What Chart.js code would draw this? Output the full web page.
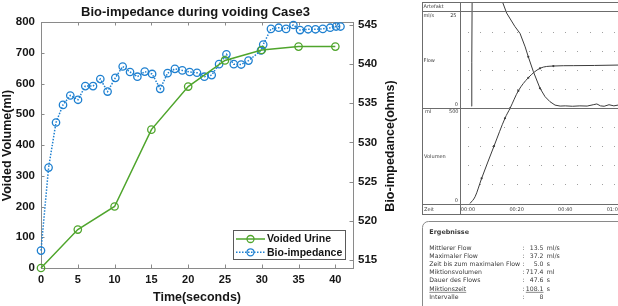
<!DOCTYPE html>
<html><head><meta charset="utf-8">
<script src="https://cdn.jsdelivr.net/npm/chart.js@4/dist/chart.umd.min.js"></script>
<style>
html,body{margin:0;padding:0;background:#fff;}
#wrap{position:relative;width:618px;height:306px;overflow:hidden;background:#fff;}
canvas{position:absolute;top:0;}
</style></head><body>
<div id="wrap">
<canvas id="c1" width="400" height="306" style="left:0;width:400px;height:306px"></canvas>
<canvas id="c2" width="218" height="306" style="left:400px;width:218px;height:306px"></canvas>
</div>
<script>
// ---------- main chart data ----------
const chartTitle = 'Bio-impedance during voiding Case3';
const xTitle = 'Time(seconds)';
const yTitle = 'Voided Volume(ml)';
const y2Title = 'Bio-impedance(ohms)';
const seriesNames = ['Voided Urine', 'Bio-impedance'];

const urineTime = [0, 5, 10, 15, 20, 25, 30, 35, 40];
const urineVolume = [0, 125, 200, 450, 590, 675, 709, 720, 720];

const impTime = [0,1.03,2.04,2.99,3.98,5.03,6.02,7.07,8.06,9.05,10.1,11.1,12.1,13.1,14.1,15.1,16.2,17.2,18.2,19.2,20.2,21.2,22.2,23.2,24.2,25.2,26.2,27.2,28.2,29.9,30.2,31.25,32.3,33.3,34.3,35.2,36.3,37.3,38.3,39.3,40.1,40.7];
const impValue = [516.2,526.8,532.55,534.8,536.0,535.45,537.2,537.2,538.1,536.5,538.25,539.7,539.0,538.4,539.05,538.75,536.85,538.85,539.4,539.2,539.0,538.9,538.4,538.6,540.0,541.25,540.0,539.95,540.45,541.75,542.5,544.5,544.65,544.5,545.0,544.35,544.45,544.45,544.5,544.65,544.8,544.8];

// ---------- scanned uroflow panel data ----------
const volTime = [0.8, 2.9, 5.6, 10.7, 15.2, 17.3, 20.7, 24.8, 29.6, 35.1, 43.3, 52.0, 61.7];
const volMl   = [0, 35, 131, 299, 444, 496, 587, 655, 704, 716, 718, 719, 721];
const flowTime = [1.45, 1.55, 1.7, 5.0, 10.0, 13.9, 15.9, 19.3, 21.4, 23.5, 24.8, 26.9, 29.6, 31.7, 33.7, 35.8, 37.9, 40.0, 43.0, 46.0, 49.0, 51.5, 53.0, 54.5, 56.0, 58.0, 60.0, 61.7];
const flowRate = [0.5, 12, 30, 37.2, 34, 28.2, 24.8, 21.3, 19.5, 16.0, 13.4, 9.5, 5.2, 3.0, 1.7, 0.8, 0.55, 0.6, 0.5, 0.6, 0.55, 0.9, 1.1, 0.6, 0.5, 0.9, 0.6, 0.8];
const flowTimeTicks = [0, 20, 40, 60];
const flowTimeLabels = ['00:00', '00:20', '00:40', '01:00'];
const flowGridRows = [5, 10, 15, 20];
const volGridRows = [100, 200, 300, 400];
const gridCols = [0,5,10,15,20,25,30,35,40,45,50,55,60];
const resultsTitle = 'Ergebnisse';
const resultLabels = ['Mittlerer Flow','Maximaler Flow','Zeit bis zum maximalen Flow','Miktionsvolumen','Dauer des Flows','Miktionszeit','Intervalle'];
const resultValues = ['13.5','37.2','5.0','717.4','47.6','108.1','8'];
const resultUnits  = ['ml/s','ml/s','s','ml','s','s',''];

const GREEN = '#4fa52c', BLUE = '#1f80d0', AXIS = '#8a8a8a', TXT = '#151515';
const FONT = '"Liberation Sans", Arial, Helvetica, sans-serif';

const leftDecor = {
  id: 'leftDecor',
  beforeDatasetsDraw(chart) {
    const {ctx, chartArea: a, scales: {x, y, y2}} = chart;
    ctx.save();
    ctx.strokeStyle = AXIS; ctx.lineWidth = 1;
    ctx.beginPath();
    ctx.moveTo(a.left, a.top + 0.5); ctx.lineTo(a.right, a.top + 0.5);
    const L = 3.5;
    x.ticks.forEach(t => { const p = Math.round(x.getPixelForValue(t.value)) + 0.5;
      ctx.moveTo(p, a.bottom); ctx.lineTo(p, a.bottom - L); ctx.moveTo(p, a.top); ctx.lineTo(p, a.top + L); });
    y.ticks.forEach(t => { const p = Math.round(y.getPixelForValue(t.value)) + 0.5;
      ctx.moveTo(a.left, p); ctx.lineTo(a.left + L, p); });
    y2.ticks.forEach(t => { const p = Math.round(y2.getPixelForValue(t.value)) + 0.5;
      ctx.moveTo(a.right, p); ctx.lineTo(a.right - L, p); });
    ctx.stroke(); ctx.restore();
  },
  afterDraw(chart) {
    const {ctx, chartArea: a} = chart;
    ctx.save();
    ctx.fillStyle = TXT;
    ctx.textAlign = 'center'; ctx.textBaseline = 'middle';
    ctx.font = 'bold 13px ' + FONT;
    ctx.fillText(chartTitle, 195.5, 12.5);
    ctx.font = 'bold 12.5px ' + FONT;
    ctx.fillText(xTitle, (a.left + a.right) / 2, 298);
    ctx.save(); ctx.translate(7.5, 145.5); ctx.rotate(-Math.PI / 2); ctx.fillText(yTitle, 0, 0); ctx.restore();
    ctx.save(); ctx.translate(391, 146); ctx.rotate(-Math.PI / 2); ctx.fillText(y2Title, 0, 0); ctx.restore();
    // legend
    const bx = 233.5, by = 230.5, bw = 112, bh = 29;
    ctx.fillStyle = '#fff'; ctx.fillRect(bx, by, bw, bh);
    ctx.strokeStyle = '#5a5a5a'; ctx.lineWidth = 1; ctx.strokeRect(bx, by, bw, bh);
    const rows = [{y: 239, c: GREEN, dash: []}, {y: 252.3, c: BLUE, dash: [1.5, 1.5]}];
    ctx.font = 'bold 10.5px ' + FONT; ctx.textAlign = 'left';
    rows.forEach((r, i) => {
      ctx.strokeStyle = r.c; ctx.lineWidth = 1.5; ctx.setLineDash(r.dash);
      ctx.beginPath(); ctx.moveTo(236, r.y); ctx.lineTo(265, r.y); ctx.stroke();
      ctx.setLineDash([]); ctx.lineWidth = 1.3;
      ctx.beginPath(); ctx.arc(250.5, r.y, 3.5, 0, Math.PI * 2); ctx.stroke();
      ctx.fillStyle = TXT; ctx.fillText(seriesNames[i], 267, r.y + 0.5);
    });
    ctx.restore();
  }
};

const tickFont = {family: FONT, size: 11.5, weight: 'bold'};
new Chart(document.getElementById('c1'), {
  type: 'line',
  data: {
    datasets: [
      {label: seriesNames[0], data: urineTime.map((t, i) => ({x: t, y: urineVolume[i]})), yAxisID: 'y',
       borderColor: GREEN, borderWidth: 1.5, pointRadius: 3.7, pointBorderWidth: 1.3,
       pointBorderColor: GREEN, pointBackgroundColor: 'rgba(0,0,0,0)', tension: 0, clip: false},
      {label: seriesNames[1], data: impTime.map((t, i) => ({x: t, y: impValue[i]})), yAxisID: 'y2',
       borderColor: BLUE, borderWidth: 1.5, borderDash: [1.5, 1.5], pointRadius: 3.7, pointBorderWidth: 1.3,
       pointBorderColor: BLUE, pointBackgroundColor: 'rgba(0,0,0,0)', tension: 0, clip: false}
    ]
  },
  options: {
    responsive: false, animation: false, events: [],
    layout: {padding: {top: 22, left: 0, right: 0, bottom: 0}},
    plugins: {legend: {display: false}, tooltip: {enabled: false}, title: {display: false}},
    scales: {
      x: {type: 'linear', min: 0, max: 42.4,
          ticks: {stepSize: 5, includeBounds: false, padding: 5, maxRotation: 0, color: TXT, font: {family: FONT, size: 11, weight: 'bold'}},
          grid: {display: false, drawTicks: false}, border: {color: AXIS},
          afterFit(s) { s.height = 38; }},
      y: {position: 'left', min: 0, max: 800,
          ticks: {stepSize: 100, padding: 6, color: TXT, font: tickFont},
          grid: {display: false, drawTicks: false}, border: {color: AXIS},
          afterFit(s) { s.width = 41; }},
      y2: {position: 'right', min: 513.98, max: 545.38,
          ticks: {stepSize: 5, includeBounds: false, padding: 5, color: TXT, font: tickFont},
          grid: {display: false, drawTicks: false}, border: {color: AXIS},
          afterFit(s) { s.width = 47; }}
    }
  },
  plugins: [leftDecor]
});

// ---------- scanned panel ----------
const SC = '#3a3a3a', SL = '#6c6c6c', SF = '"DejaVu Sans", Verdana, sans-serif';
const scanDecor = {
  id: 'scanDecor',
  beforeDatasetsDraw(chart) {
    const {ctx, scales: {x, yv, yf}} = chart;
    ctx.save(); ctx.fillStyle = '#a0a0a0';
    gridCols.forEach(c => {
      const px = Math.round(x.getPixelForValue(c));
      flowGridRows.forEach(r => ctx.fillRect(px, Math.round(yf.getPixelForValue(r)), 1, 1));
      volGridRows.forEach(r => ctx.fillRect(px, Math.round(yv.getPixelForValue(r)), 1, 1));
    });
    ctx.restore();
  },
  afterDraw(chart) {
    const {ctx, scales: {x}} = chart;
    ctx.save();
    ctx.strokeStyle = SL; ctx.lineWidth = 1;
    ctx.beginPath();
    [2.5, 11.5, 108.5, 204.5, 214.5].forEach(yy => { ctx.moveTo(22, yy); ctx.lineTo(218, yy); });
    ctx.moveTo(22.5, 2); ctx.lineTo(22.5, 215);
    ctx.moveTo(60.5, 2); ctx.lineTo(60.5, 215);
    ctx.stroke();
    ctx.fillStyle = SC; ctx.textBaseline = 'middle';
    ctx.font = '5px ' + SF; ctx.textAlign = 'left';
    ctx.fillText('Artefakt', 23.5, 7);
    ctx.fillText('ml/s', 23.5, 15.7);
    ctx.fillText('Flow', 23.5, 61);
    ctx.fillText('ml', 25, 112);
    ctx.fillText('Volumen', 24, 157);
    ctx.fillText('Zeit', 24, 209.5);
    ctx.textAlign = 'right';
    ctx.fillText('25', 56.5, 15.5);
    ctx.fillText('0', 58, 105);
    ctx.fillText('500', 58.5, 112);
    ctx.fillText('0', 58, 201);
    ctx.textAlign = 'center';
    flowTimeTicks.forEach((t, i) => ctx.fillText(flowTimeLabels[i], x.getPixelForValue(t), 209.5));
    // results box
    ctx.beginPath();
    const bx = 22.5, by = 221.5, r = 6;
    ctx.moveTo(bx, 320); ctx.lineTo(bx, by + r); ctx.arcTo(bx, by, bx + r, by, r); ctx.lineTo(230, by);
    ctx.strokeStyle = '#8a8a8a'; ctx.stroke();
    ctx.textAlign = 'left';
    ctx.font = 'bold 6.4px ' + SF;
    ctx.fillText(resultsTitle, 29.3, 232.5);
    ctx.font = '6.2px ' + SF;
    resultLabels.forEach((lab, i) => {
      const yy = 248.3 + i * 8.12;
      ctx.textAlign = 'left'; ctx.fillText(lab, 29.3, yy);
      ctx.fillText(':', 122.5, yy);
      ctx.textAlign = 'right'; ctx.fillText(resultValues[i], 143.5, yy);
      ctx.textAlign = 'left'; ctx.fillText(resultUnits[i], 146.7, yy);
      if (lab === 'Miktionszeit') {
        const w = ctx.measureText(lab).width;
        const vw = ctx.measureText(resultValues[i]).width;
        ctx.fillRect(29.3, yy + 3, w, 0.6);
        ctx.fillRect(143.5 - vw, yy + 3, vw, 0.6);
      }
    });
    ctx.restore();
  }
};

new Chart(document.getElementById('c2'), {
  type: 'line',
  data: {
    datasets: [
      {data: volTime.map((t, i) => ({x: t, y: volMl[i]})), yAxisID: 'yv', borderColor: '#3c3c3c', borderWidth: 1,
       pointRadius: volTime.map((t, i) => (i >= 2 && i <= 9) ? 1.1 : 0), pointBackgroundColor: '#3c3c3c', pointBorderWidth: 0,
       cubicInterpolationMode: 'monotone'},
      {data: flowTime.map((t, i) => ({x: t, y: flowRate[i]})), yAxisID: 'yf', borderColor: '#3c3c3c', borderWidth: 1,
       pointRadius: flowTime.map((t, i) => (i === 10 || i === 12) ? 1.1 : 0), pointBackgroundColor: '#3c3c3c', pointBorderWidth: 0,
       tension: 0}
    ]
  },
  options: {
    responsive: false, animation: false, events: [],
    layout: {padding: {left: 60, top: 2, right: 0, bottom: 102}},
    plugins: {legend: {display: false}, tooltip: {enabled: false}},
    scales: {
      x: {type: 'linear', display: false, min: -3.3, max: 61.7},
      yv: {display: false, min: -2.6, max: 1049.5},
      yf: {display: false, min: -25.0, max: 27.7}
    }
  },
  plugins: [scanDecor]
});
</script>
</body></html>
